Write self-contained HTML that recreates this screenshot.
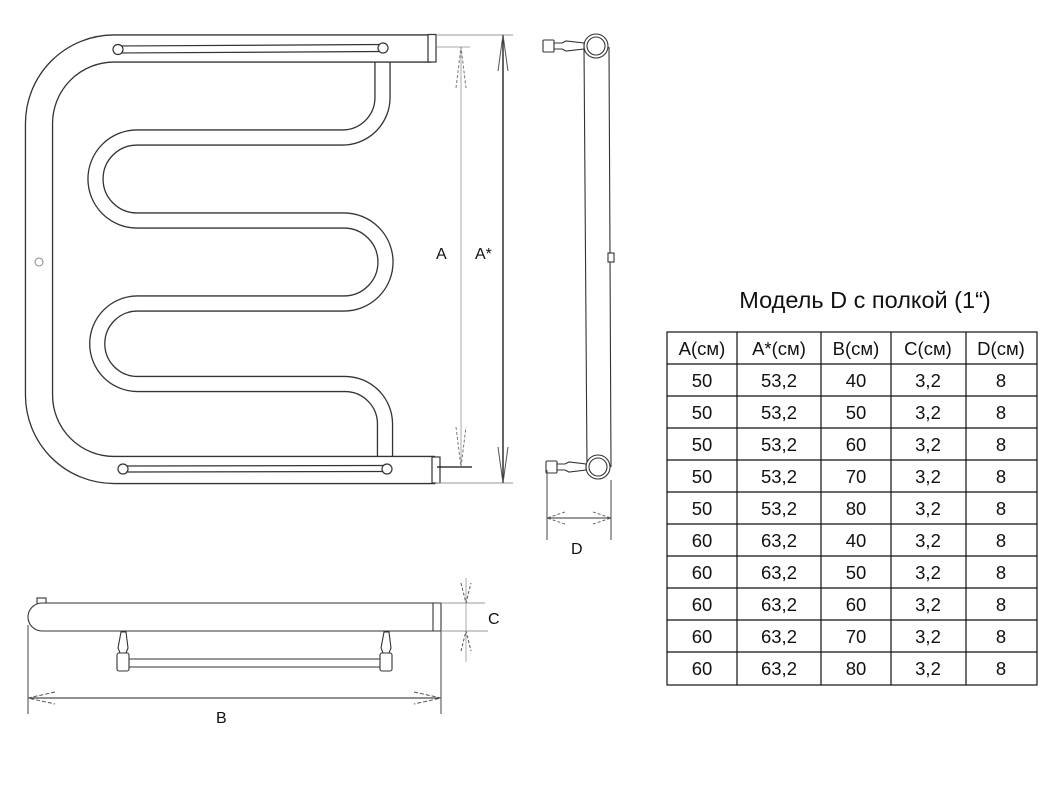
<!DOCTYPE html>
<html><head><meta charset="utf-8"><style>
html,body{margin:0;padding:0;background:#fff;}
svg{display:block;}
text{font-family:"Liberation Sans",Arial,sans-serif;fill:#111;}
</style></head><body>
<svg width="1058" height="794" viewBox="0 0 1058 794" xmlns="http://www.w3.org/2000/svg">
<g fill="none">
<path d="M382.5 55 V97.5 A40 40 0 0 1 342.5 137.5 H137 A41.5 41.5 0 0 0 137 220.5 H344 A41.5 41.5 0 0 1 344 303.5 H137.5 A40.25 40.25 0 0 0 137.5 384 H345 A40 40 0 0 1 385 424 V462" stroke="#333" stroke-width="16.4"/>
<path d="M382.5 55 V97.5 A40 40 0 0 1 342.5 137.5 H137 A41.5 41.5 0 0 0 137 220.5 H344 A41.5 41.5 0 0 1 344 303.5 H137.5 A40.25 40.25 0 0 0 137.5 384 H345 A40 40 0 0 1 385 424 V462" stroke="#fff" stroke-width="13.8"/>
<path d="M431 48.5 H114 A75 75 0 0 0 39 123.5 V395 A75 75 0 0 0 114 470 H435" stroke="#333" stroke-width="28.4"/>
<path d="M431 48.5 H114 A75 75 0 0 0 39 123.5 V395 A75 75 0 0 0 114 470 H435" stroke="#fff" stroke-width="25.8"/>
</g>
<g stroke="#333" stroke-width="1.2" fill="#fff">
<rect x="428" y="34.5" width="8" height="27.5"/>
<rect x="432" y="457" width="8" height="26"/>
<path d="M118 46 L383 44.5 M118 53 L383 51.5" fill="none"/>
<circle cx="118" cy="49.5" r="5"/><circle cx="383" cy="48" r="5"/>
<path d="M123 466 L387 465.5 M123 472 L387 471.5" fill="none"/>
<circle cx="123" cy="469" r="5"/><circle cx="387" cy="469" r="5"/>
</g>
<circle cx="39" cy="262" r="4" fill="none" stroke="#888" stroke-width="1"/>
<g fill="none" stroke-width="1">
<path d="M437 47 H470 M461 47 V467" stroke="#aaa"/>
<path d="M437 467 H472" stroke="#111" stroke-width="1.3"/>
<path d="M456 88 L461 47 L466 88 M456 427 L461 467 L466 427" stroke="#777" stroke-dasharray="3,2"/>
<path d="M436 35 H513 M436 483 H513" stroke="#999"/>
<path d="M503 35 V483" stroke="#111" stroke-width="1.3"/>
<path d="M498 71 L503 35 L508 71 M498 447 L503 483 L508 447" stroke="#555"/>
</g>
<text x="436" y="259" font-size="16">A</text>
<text x="475" y="259" font-size="16">A*</text>
<g stroke="#333" stroke-width="1.1" fill="#fff">
<path d="M584 47 L587 467 M609 47 L611 467" fill="none"/>
<rect x="608" y="253" width="6" height="9"/>
<circle cx="596" cy="46" r="12"/><circle cx="596" cy="46" r="9"/>
<circle cx="598" cy="467" r="12"/><circle cx="598" cy="467" r="9"/>
<rect x="543" y="40" width="11" height="12" rx="1"/>
<path d="M554 43 H562 L566 41 L584 43 V49 L566 51 L562 49 H554 Z"/>
<rect x="546" y="461" width="11" height="12" rx="1"/>
<path d="M557 464 H565 L569 462 L586 464 V470 L569 472 L565 470 H557 Z"/>
</g>
<g fill="none" stroke-width="1">
<path d="M547 470 V540 M611 480 V540" stroke="#444"/>
<path d="M547 518 H611" stroke="#333"/>
<path d="M565 512 L547 518 L565 524 M593 512 L611 518 L593 524" stroke="#666" stroke-dasharray="3,2"/>
</g>
<text x="571" y="554" font-size="16">D</text>
<g stroke="#333" stroke-width="1.1" fill="#fff">
<rect x="37" y="598" width="9" height="6"/>
<path d="M441 603 H42 A14 14 0 0 0 42 631 H441 Z"/>
<path d="M433 603 V631" fill="none"/>
<path d="M128 659 H385 M128 667 H385" fill="none"/>
<path d="M121 632 L126 632 L128 648 L126 653 L120 653 L118 648 Z"/>
<rect x="117" y="653" width="12" height="18" rx="2"/>
<path d="M384 632 L389 632 L391 648 L389 653 L383 653 L381 648 Z"/>
<rect x="380" y="653" width="12" height="18" rx="2"/>
</g>
<g fill="none" stroke-width="1">
<path d="M28 625 V714 M441 631 V714" stroke="#444"/>
<path d="M28 698 H441" stroke="#222"/>
<path d="M55 692 L28 698 L55 704 M414 692 L441 698 L414 704" stroke="#555" stroke-dasharray="4,2"/>
<path d="M441 603 H485 M441 631 H488" stroke="#999"/>
<path d="M466 578 V662" stroke="#aaa"/>
<path d="M461 583 L466 603 L471 583 M461 651 L466 631 L471 651" stroke="#555" stroke-dasharray="3,2"/>
</g>
<text x="216" y="723" font-size="16">B</text>
<text x="488" y="624" font-size="16">C</text>
<text x="865" y="308" font-size="23.5" text-anchor="middle">Модель D с полкой (1“)</text>
<g stroke="#111" stroke-width="1.2" fill="none">
<rect x="667" y="332" width="370" height="353"/>
<path d="M737 332 V685 M821 332 V685 M891 332 V685 M966 332 V685"/>
<path d="M667 364 H1037 M667 396 H1037 M667 428 H1037 M667 460 H1037 M667 492 H1037 M667 524 H1037 M667 556 H1037 M667 588 H1037 M667 620 H1037 M667 652 H1037"/>
</g>
<g font-size="18.5" text-anchor="middle">
<text x="702" y="355">A(см)</text><text x="779" y="355">A*(см)</text><text x="856" y="355">B(см)</text><text x="928" y="355">C(см)</text><text x="1001" y="355">D(см)</text>
<text x="702" y="387">50</text><text x="779" y="387">53,2</text><text x="856" y="387">40</text><text x="928" y="387">3,2</text><text x="1001" y="387">8</text>
<text x="702" y="419">50</text><text x="779" y="419">53,2</text><text x="856" y="419">50</text><text x="928" y="419">3,2</text><text x="1001" y="419">8</text>
<text x="702" y="451">50</text><text x="779" y="451">53,2</text><text x="856" y="451">60</text><text x="928" y="451">3,2</text><text x="1001" y="451">8</text>
<text x="702" y="483">50</text><text x="779" y="483">53,2</text><text x="856" y="483">70</text><text x="928" y="483">3,2</text><text x="1001" y="483">8</text>
<text x="702" y="515">50</text><text x="779" y="515">53,2</text><text x="856" y="515">80</text><text x="928" y="515">3,2</text><text x="1001" y="515">8</text>
<text x="702" y="547">60</text><text x="779" y="547">63,2</text><text x="856" y="547">40</text><text x="928" y="547">3,2</text><text x="1001" y="547">8</text>
<text x="702" y="579">60</text><text x="779" y="579">63,2</text><text x="856" y="579">50</text><text x="928" y="579">3,2</text><text x="1001" y="579">8</text>
<text x="702" y="611">60</text><text x="779" y="611">63,2</text><text x="856" y="611">60</text><text x="928" y="611">3,2</text><text x="1001" y="611">8</text>
<text x="702" y="643">60</text><text x="779" y="643">63,2</text><text x="856" y="643">70</text><text x="928" y="643">3,2</text><text x="1001" y="643">8</text>
<text x="702" y="675">60</text><text x="779" y="675">63,2</text><text x="856" y="675">80</text><text x="928" y="675">3,2</text><text x="1001" y="675">8</text>
</g>
</svg>
</body></html>
